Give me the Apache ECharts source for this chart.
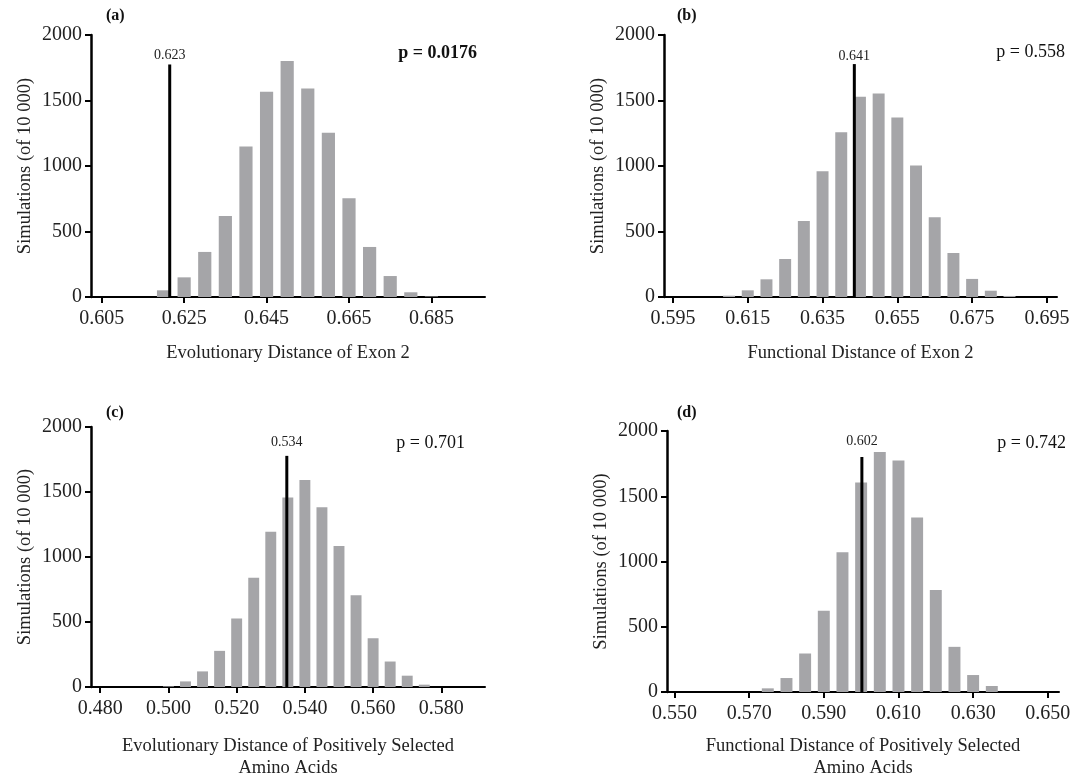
<!DOCTYPE html>
<html>
<head>
<meta charset="utf-8">
<script src="https://cdn.jsdelivr.net/npm/echarts@6/dist/echarts.min.js"></script>
<style>html,body{margin:0;padding:0;background:#fff;}#c{width:1075px;height:780px;}</style>
</head>
<body>
<div id="c"></div>
<script>
// ---- data ----
const binsA = [0.620,0.625,0.630,0.635,0.640,0.645,0.650,0.655,0.660,0.665,0.670,0.675,0.680,0.685];
const countsA = [51,150,344,619,1149,1567,1801,1592,1254,754,382,160,36,4];
const binsB = [0.610,0.615,0.620,0.625,0.630,0.635,0.640,0.645,0.650,0.655,0.660,0.665,0.670,0.675,0.680,0.685];
const countsB = [10,51,135,290,581,960,1258,1529,1554,1371,1004,609,336,138,48,8];
const binsC = [0.500,0.505,0.510,0.515,0.520,0.525,0.530,0.535,0.540,0.545,0.550,0.555,0.560,0.565,0.570,0.575];
const countsC = [5,43,120,278,527,841,1195,1457,1592,1383,1085,706,375,196,87,18];
const binsD = [0.575,0.580,0.585,0.590,0.595,0.600,0.605,0.610,0.615,0.620,0.625,0.630,0.635];
const countsD = [28,107,295,623,1071,1606,1840,1773,1338,781,346,130,46];

const xTicksA = [0.605,0.625,0.645,0.665,0.685];
const xTicksB = [0.595,0.615,0.635,0.655,0.675,0.695];
const xTicksC = [0.480,0.500,0.520,0.540,0.560,0.580];
const xTicksD = [0.550,0.570,0.590,0.610,0.630,0.650];

// observed value lines: [position, top]
const obsA = [0.6215, 1775]; const obsLabelA = '0.623';
const obsB = [0.6435, 1778]; const obsLabelB = '0.641';
const obsC = [0.5347, 1778]; const obsLabelC = '0.534';
const obsD = [0.6002, 1801]; const obsLabelD = '0.602';

const pTexts = ['p = 0.0176','p = 0.558','p = 0.701','p = 0.742'];
const panelTags = ['(a)','(b)','(c)','(d)'];
const xNames = ['Evolutionary Distance of Exon 2','Functional Distance of Exon 2',
  'Evolutionary Distance of Positively Selected\nAmino Acids','Functional Distance of Positively Selected\nAmino Acids'];
const yName = 'Simulations (of 10 000)';

// ---- layout ----
const FONT = '"Liberation Serif", "Times New Roman", serif';
const panels = [
  {grid:{left:91,top:35,width:394,height:262}, min:0.6024, max:0.698, bins:binsA, counts:countsA, ticks:xTicksA, obs:obsA, obsLabel:obsLabelA, nameGap:45, lblGap:2},
  {grid:{left:664,top:35,width:393,height:262}, min:0.5926, max:0.6977, bins:binsB, counts:countsB, ticks:xTicksB, obs:obsB, obsLabel:obsLabelB, nameGap:45, lblGap:1},
  {grid:{left:91,top:427,width:394,height:261}, min:0.4773, max:0.5928, bins:binsC, counts:countsC, ticks:xTicksC, obs:obsC, obsLabel:obsLabelC, nameGap:48, lblGap:7},
  {grid:{left:667,top:431,width:392,height:262}, min:0.548, max:0.653, bins:binsD, counts:countsD, ticks:xTicksD, obs:obsD, obsLabel:obsLabelD, nameGap:43, lblGap:9}
];
const BAR_W = 0.0032;
const BAR_COLOR = '#a5a5a8';

const grids=[], xAxes=[], yAxes=[], series=[];
panels.forEach((p,i)=>{
  grids.push(Object.assign({containLabel:false}, p.grid));
  xAxes.push({
    type:'value', gridIndex:i, min:p.min, max:p.max,
    name:xNames[i], nameLocation:'middle', nameGap:p.nameGap,
    nameTextStyle:{fontFamily:FONT, fontSize:18.5, color:'#222', lineHeight:22},
    axisLine:{show:true, onZero:false, lineStyle:{color:'#000', width:2}},
    axisTick:{show:true, length:6, inside:false, lineStyle:{color:'#000', width:2}, customValues:p.ticks},
    axisLabel:{fontFamily:FONT, fontSize:20, color:'#222', margin:12, customValues:p.ticks,
      formatter:v=>v.toFixed(3)},
    splitLine:{show:false}
  });
  yAxes.push({
    type:'value', gridIndex:i, min:0, max:2000, interval:500,
    name:yName, nameLocation:'middle', nameGap:56, nameRotate:90,
    nameTextStyle:{fontFamily:FONT, fontSize:18.5, color:'#222'},
    axisLine:{show:true, lineStyle:{color:'#000', width:2.5}},
    axisTick:{show:true, length:6, lineStyle:{color:'#000', width:2}},
    axisLabel:{fontFamily:FONT, fontSize:20, color:'#222', margin:9, formatter:v=>String(v)},
    splitLine:{show:false}
  });
  series.push({
    type:'custom', xAxisIndex:i, yAxisIndex:i, z:2,
    data:p.bins.map((b,k)=>[b,p.counts[k]]),
    renderItem:(params, api)=>{
      const x=api.value(0), y=api.value(1);
      const p0=api.coord([x-BAR_W/2,y]), p1=api.coord([x+BAR_W/2,0]);
      return {type:'rect', shape:{x:p0[0], y:p0[1], width:p1[0]-p0[0], height:p1[1]-p0[1]}, style:{fill:BAR_COLOR}};
    }
  });
  series.push({
    type:'custom', xAxisIndex:i, yAxisIndex:i, z:5,
    data:[[p.obs[0], p.obs[1]]],
    renderItem:(params, api)=>{
      const x=api.value(0), y=api.value(1);
      const a=api.coord([x,0]), b=api.coord([x,y]);
      return {type:'group', children:[
        {type:'line', shape:{x1:a[0], y1:a[1], x2:b[0], y2:b[1]}, style:{stroke:'#000', lineWidth:3}},
        {type:'text', style:{text:p.obsLabel, x:b[0], y:b[1]-p.lblGap, align:'center', verticalAlign:'bottom',
          font:'14px '+FONT, fill:'#222'}}
      ]};
    }
  });
});

const graphics = [];
const tagPos = [[106,8],[677,8],[106,405],[677,405]];
const pPos = [[477,53],[1065,52],[465,443],[1066,443]];
panels.forEach((p,i)=>{
  graphics.push({type:'text', left:tagPos[i][0], top:tagPos[i][1],
    style:{text:panelTags[i], font:'bold 16px '+FONT, fill:'#111'}});
  graphics.push({type:'text', x:pPos[i][0], y:pPos[i][1],
    style:{text:pTexts[i], align:'right', verticalAlign:'middle',
      font:(i===0?'bold ':'')+'18px '+FONT, fill:'#111'}});
});

const chart = echarts.init(document.getElementById('c'), null, {renderer:'canvas'});
chart.setOption({
  animation:false,
  backgroundColor:'#fff',
  grid:grids, xAxis:xAxes, yAxis:yAxes, series:series, graphic:graphics
});
</script>
</body>
</html>
